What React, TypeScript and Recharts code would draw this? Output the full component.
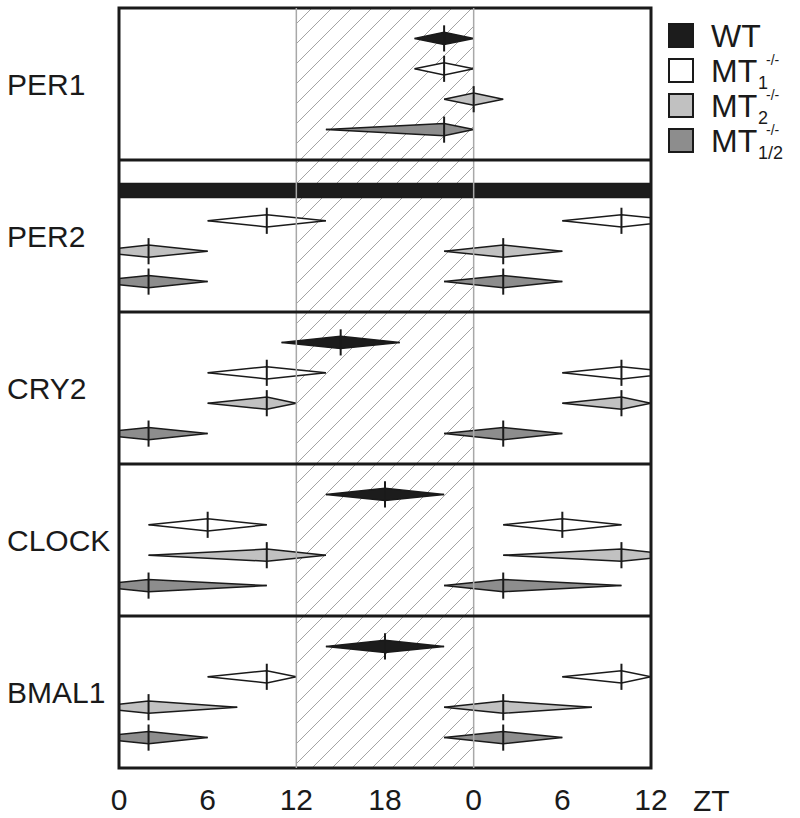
import React from "react";
import {
  Area,
  ComposedChart,
  Label,
  ReferenceArea,
  ReferenceLine,
  XAxis,
  YAxis,
} from "recharts";

const genes = ["PER1", "PER2", "CRY2", "CLOCK", "BMAL1"];
const genotypeNames = ["WT", "MT", "MT", "MT"];
const genotypeSubs = ["", "1", "2", "1/2"];
const genotypeSups = ["", "-/-", "-/-", "-/-"];
const genotypeFills = ["#1c1c1c", "#ffffff", "#c1c1c1", "#8d8d8d"];

// [CI start, peak, CI end] in ZT hours, one per genotype (WT, MT1, MT2, MT1/2); null = arrhythmic
const per1Phases = [[20, 22, 24], [20, 22, 24], [22, 24, 26], [14, 22, 24]];
const per2Phases = [null, [6, 10, 14], [-2, 2, 6], [-2, 2, 6]];
const cry2Phases = [[11, 15, 19], [6, 10, 14], [6, 10, 12], [-2, 2, 6]];
const clockPhases = [[14, 18, 22], [2, 6, 10], [2, 10, 14], [-2, 2, 10]];
const bmal1Phases = [[14, 18, 22], [6, 10, 12], [-2, 2, 8], [-2, 2, 6]];
const genePhases = [per1Phases, per2Phases, cry2Phases, clockPhases, bmal1Phases];

const ztTicks = [0, 6, 12, 18, 24, 30, 36];
const ztTickLabels = ["0", "6", "12", "18", "0", "6", "12"];
const darkPhase = [12, 24];

const PANEL = 5;
const DIAMOND_H = 0.2;
const TICK_H = 0.43;
const BAR_H = 0.23;
const INK = "#1a1a1a";
const FONT = '"Liberation Sans", Arial, Helvetica, sans-serif';

type Band = { t: number; band: [number, number] };
type Mark = { id: string; fill: string; y: number; peak: number | null; data: Band[] };

// the figure is double plotted: a phase in the first 12 h shows again one day later
const marks: Mark[] = [];
genePhases.forEach((phases, g) => {
  phases.forEach((ph, k) => {
    const y = g * PANEL + k + 1;
    const fill = genotypeFills[k];
    if (!ph) {
      marks.push({
        id: `${g}-${k}`,
        fill,
        y,
        peak: null,
        data: [
          { t: 0, band: [y - BAR_H, y + BAR_H] },
          { t: 36, band: [y - BAR_H, y + BAR_H] },
        ],
      });
      return;
    }
    const [lo, pk, hi] = ph;
    [0, 24].forEach((shift) => {
      if (pk + shift > 36) return;
      marks.push({
        id: `${g}-${k}-${shift}`,
        fill,
        y,
        peak: pk + shift,
        data: [
          { t: lo + shift, band: [y, y] },
          { t: pk + shift, band: [y - DIAMOND_H, y + DIAMOND_H] },
          { t: hi + shift, band: [y, y] },
        ],
      });
    });
  });
});

function GeneTick(props: any) {
  const { y, payload } = props;
  const idx = Math.floor(payload.value / PANEL);
  return (
    <text x={7} y={y} dy="0.355em" textAnchor="start" fontSize={30} fill={INK} fontFamily={FONT}>
      {genes[idx]}
    </text>
  );
}

function Legend() {
  return (
    <svg
      width={140}
      height={170}
      style={{ position: "absolute", left: 660, top: 0, fontFamily: FONT }}
    >
      {genotypeNames.map((name, i) => {
        const base = 47 + 35 * i;
        return (
          <g key={i}>
            <rect x={9} y={base - 23} width={24} height={23} fill={genotypeFills[i]} stroke={INK} strokeWidth={2} />
            <text x={51} y={base} fontSize={32} fill={INK}>
              {name}
            </text>
            {genotypeSubs[i] && (
              <text x={98} y={base + 7} fontSize={18} fill={INK}>
                {genotypeSubs[i]}
              </text>
            )}
            {genotypeSups[i] && (
              <text x={106} y={base - 17} fontSize={14} fill={INK}>
                {genotypeSups[i]}
              </text>
            )}
          </g>
        );
      })}
    </svg>
  );
}

export default function App() {
  return (
    <div style={{ position: "absolute", left: 0, top: 0, width: 800, height: 818, background: "#fff" }}>
      <ComposedChart width={800} height={818} margin={{ top: 8, right: 149, bottom: 0, left: 0 }}>
        <defs>
          <pattern id="darkHatch" patternUnits="userSpaceOnUse" width={20} height={20}>
            <path d="M0,20 L20,0 M-5,5 L5,-5 M15,25 L25,15" stroke="#9a9a9a" strokeWidth={0.9} />
          </pattern>
        </defs>
        <XAxis
          type="number"
          dataKey="t"
          domain={[0, 36]}
          ticks={ztTicks}
          interval={0}
          allowDataOverflow
          axisLine={false}
          tickLine={false}
          tickSize={0}
          tickMargin={21}
          height={50}
          tick={{ fontSize: 30, fill: INK, fontFamily: FONT }}
          tickFormatter={(v) => ztTickLabels[ztTicks.indexOf(Number(v))]}
        >
          <Label
            content={(p: any) => {
              const vb = p.viewBox || {};
              return (
                <text x={vb.x + vb.width + 42} y={811} fontSize={30} fill={INK} fontFamily={FONT}>
                  ZT
                </text>
              );
            }}
          />
        </XAxis>
        <YAxis
          type="number"
          domain={[0, PANEL * genes.length]}
          reversed
          allowDataOverflow
          ticks={genes.map((_, i) => i * PANEL + PANEL / 2)}
          interval={0}
          width={119}
          axisLine={false}
          tickLine={false}
          tick={<GeneTick />}
        />

        <ReferenceArea
          x1={darkPhase[0]}
          x2={darkPhase[1]}
          y1={0}
          y2={PANEL * genes.length}
          fill="url(#darkHatch)"
          fillOpacity={1}
          stroke="none"
        />
        {darkPhase.map((x) => (
          <ReferenceLine key={`dp${x}`} x={x} stroke="#a8a8a8" strokeWidth={1.5} />
        ))}

        {marks.map((m) => (
          <Area
            key={m.id}
            data={m.data}
            dataKey="band"
            type="linear"
            fill={m.fill}
            fillOpacity={1}
            stroke={INK}
            strokeWidth={1.5}
            dot={false}
            activeDot={false}
            isAnimationActive={false}
          />
        ))}
        {marks
          .filter((m) => m.peak !== null)
          .map((m) => (
            <ReferenceLine
              key={`pk${m.id}`}
              segment={[
                { x: m.peak as number, y: m.y - TICK_H },
                { x: m.peak as number, y: m.y + TICK_H },
              ]}
              stroke={INK}
              strokeWidth={2}
            />
          ))}

        {genes.slice(1).map((_, i) => (
          <ReferenceLine key={`sep${i}`} y={(i + 1) * PANEL} stroke={INK} strokeWidth={3} />
        ))}
        <ReferenceArea
          x1={0}
          x2={36}
          y1={0}
          y2={PANEL * genes.length}
          fill="none"
          stroke={INK}
          strokeWidth={3}
        />
      </ComposedChart>
      <Legend />
    </div>
  );
}
